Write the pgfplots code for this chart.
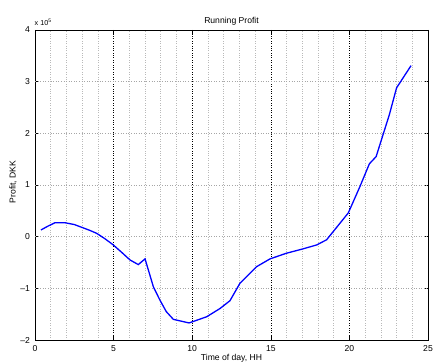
\documentclass[border=0pt]{standalone}
\usepackage{fontspec}
\setmainfont{Liberation Sans}
\usepackage{pgfplots}
\pgfplotsset{compat=1.18}
\begin{document}
\fontsize{8.6bp}{10bp}\selectfont
\begin{tikzpicture}[x=1bp,y=1bp]
\begin{axis}[
  at={(35bp,22bp)}, anchor=south west,
  scale only axis, width=393bp, height=310bp,
  xmin=0, xmax=25, ymin=-2, ymax=4,
  xtick={0,5,10,15,20,25},
  xticklabels={0,5,10,15,20,25},
  ytick={-2,-1,0,1,2,3,4},
  yticklabels={--2,--1,0,1,2,3,4},
  minor xtick={1,2,3,4,6,7,8,9,11,12,13,14,16,17,18,19,21,22,23,24},
  tick align=inside, major tick length=4bp, minor tick length=0pt,
  xtick pos=both, ytick pos=both,
  xmajorgrids, xminorgrids,
  major grid style={black, dotted, line width=0.6bp},
  minor grid style={gray!55, dotted, line width=0.6bp},
  extra y ticks={-1,0,1,2,3},
  extra y tick labels={},
  extra y tick style={grid=major, major grid style={gray!70, dotted, line width=0.6bp}, major tick length=0pt},
  axis line style={line width=0.9bp},
  every tick/.style={black, line width=0.6bp},
  xticklabel style={yshift=-2.4bp},
  yticklabel style={xshift=-2bp},
  scaled y ticks=false,
]
\addplot[blue, line width=1.3bp] coordinates {
(0.38,0.13) (0.8,0.2) (1.27,0.27) (1.9,0.27) (2.5,0.235) (3.07,0.17)
(3.5,0.12) (3.92,0.065) (4.45,-0.04) (4.98,-0.16) (5.5,-0.3) (6.04,-0.45) (6.57,-0.54)
(7.0,-0.43) (7.53,-0.97) (7.95,-1.23) (8.35,-1.45) (8.8,-1.6)
(9.8,-1.67) (10.92,-1.55) (11.77,-1.39) (12.4,-1.24) (13.04,-0.9)
(14.1,-0.58) (14.95,-0.43) (16.0,-0.32) (17.0,-0.24) (17.92,-0.16) (18.55,-0.06)
(19.93,0.46) (20.67,0.97) (21.27,1.41) (21.7,1.55) (22.54,2.36)
(23.0,2.88) (23.92,3.31)
};
\end{axis}
\node[anchor=base, inner sep=0pt] at (231.5,339) {Running Profit};
\node[anchor=base, inner sep=0pt] at (231.5,1.5) {Time of day, HH};
\node[anchor=base, rotate=90, inner sep=0pt] at (15.5,180) {Profit, DKK};
\node[anchor=base west, inner sep=0pt, font=\fontsize{7.2bp}{8bp}\selectfont] at (34.5,336.5) {x 10\textsuperscript{5}};
\pgfresetboundingbox
\useasboundingbox (0,0) rectangle (435,362);
\end{tikzpicture}
\end{document}
